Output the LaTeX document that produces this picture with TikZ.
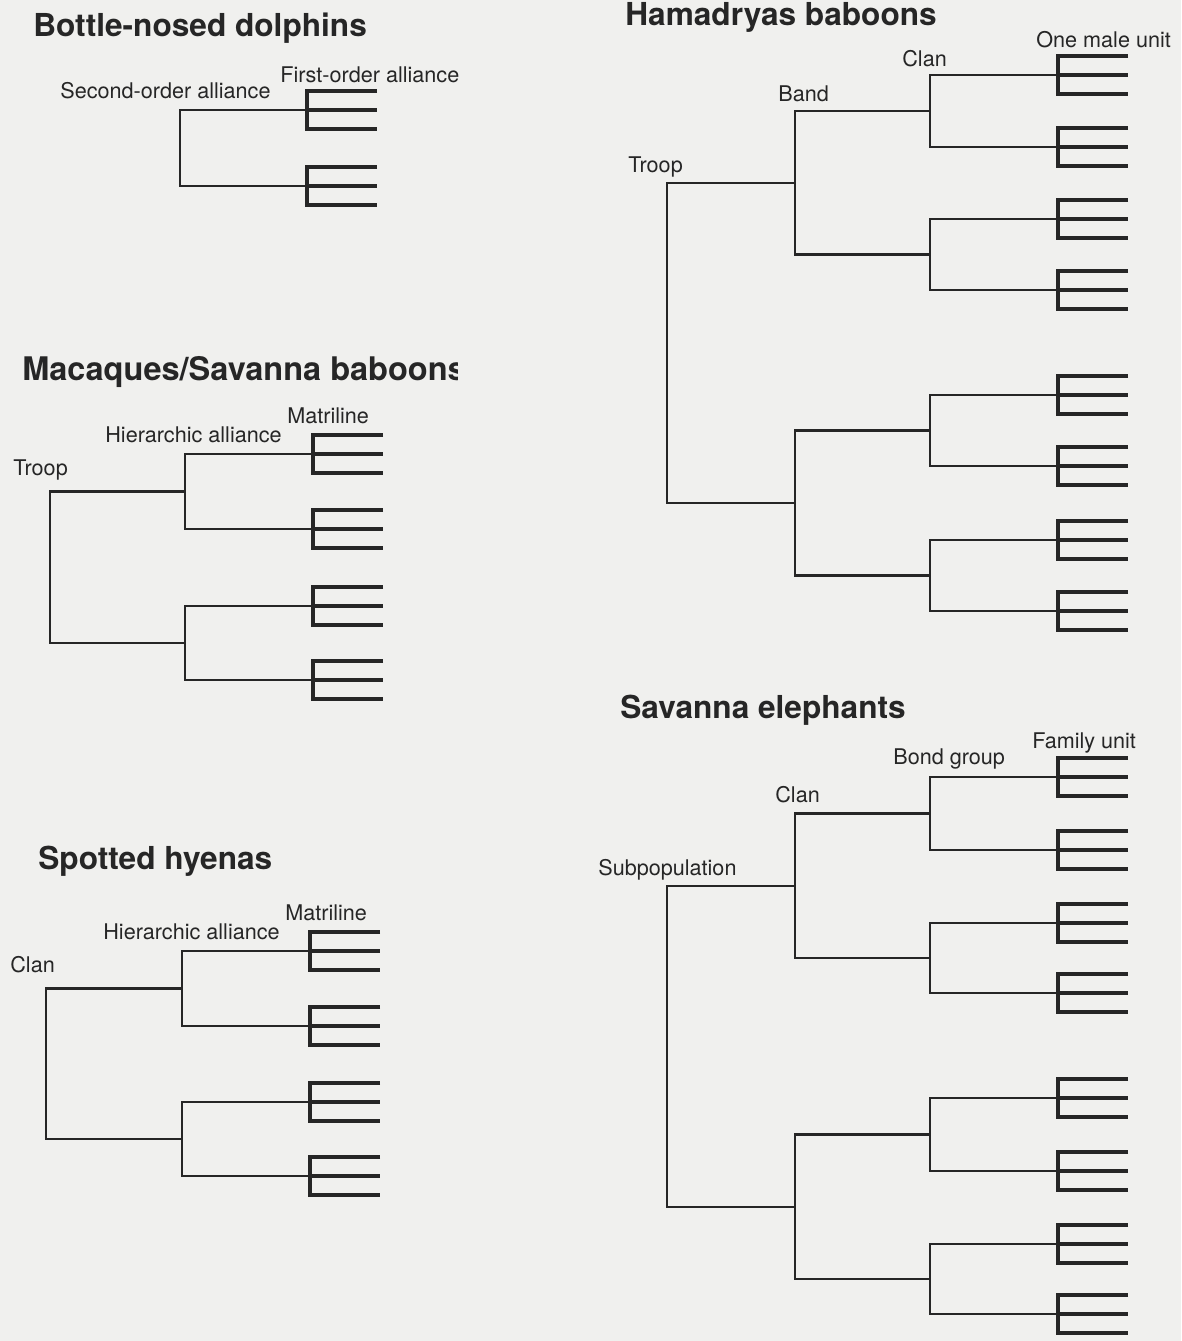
\documentclass[tikz,border=0pt]{standalone}
\usepackage{fontspec}
\setmainfont{TeX Gyre Heros}
\definecolor{scanbg}{RGB}{240,240,238}
\definecolor{ink}{RGB}{38,38,38}

\tikzset{
  branch/.style={draw=ink, line width=1.3pt},
  leafline/.style={draw=ink, line width=2.6pt},
  title/.style={anchor=base west, inner sep=0pt, text=ink, font=\fontsize{18}{21}\selectfont\bfseries},
  level/.style={anchor=base west, inner sep=0pt, text=ink, font=\fontsize{12.3}{14}\selectfont},
  comb/.pic={
    \draw[leafline] (70,-19) -- (0,-19) -- (0,19) -- (70,19);
    \draw[leafline] (0,0) -- (70,0);
  }
}

\begin{document}
\begin{tikzpicture}[x=0.02cm, y=-0.02cm]
  \useasboundingbox (0,0) rectangle (1181,1341);
  \fill[scanbg] (0,0) rectangle (1181,1341);

  % Bottle-nosed dolphins
  \node[title] (dolTitle) at (33,37) {Bottle-nosed dolphins};
  \node[level] (dolSecond) at (60,99) {Second-order alliance};
  \node[level] (dolFirst) at (280,83) {First-order alliance};
  \foreach \n/\y in {1/110,2/186} {
    \coordinate (dol\n) at (307,\y);
    \pic at (dol\n) {comb};
  }
  \coordinate (dolRoot) at (180,148);
  \draw[branch] (dol1) -| (dolRoot) |- (dol2);

  % Macaques / Savanna baboons (title cut at the right edge)
  \begin{scope}
    \clip (0,340) rectangle (457,400);
    \node[title, font=\fontsize{18.5}{21}\selectfont\bfseries] (macTitle) at (22,380) {Macaques/Savanna baboons};
  \end{scope}
  \node[level] (macMat) at (287,423) {Matriline};
  \node[level] (macHier) at (105,442) {Hierarchic alliance};
  \node[level] (macTroop) at (13,475) {Troop};
  \foreach \n/\y in {1/454,2/529,3/606,4/680} {
    \coordinate (mac\n) at (313,\y);
    \pic at (mac\n) {comb};
  }
  \coordinate (macH1) at (185,491.5);
  \coordinate (macH2) at (185,643);
  \coordinate (macRoot) at (50,567);
  \draw[branch] (mac1) -| (macH1) |- (mac2);
  \draw[branch] (mac3) -| (macH2) |- (mac4);
  \draw[branch] (macH1) -| (macRoot) |- (macH2);

  % Spotted hyenas
  \node[title] (hyeTitle) at (38,869) {Spotted hyenas};
  \node[level] (hyeMat) at (285,920) {Matriline};
  \node[level] (hyeHier) at (103,939) {Hierarchic alliance};
  \node[level] (hyeClan) at (10,972) {Clan};
  \foreach \n/\y in {1/951,2/1026,3/1102,4/1176} {
    \coordinate (hye\n) at (310,\y);
    \pic at (hye\n) {comb};
  }
  \coordinate (hyeH1) at (182,988.5);
  \coordinate (hyeH2) at (182,1139);
  \coordinate (hyeRoot) at (46,1064);
  \draw[branch] (hye1) -| (hyeH1) |- (hye2);
  \draw[branch] (hye3) -| (hyeH2) |- (hye4);
  \draw[branch] (hyeH1) -| (hyeRoot) |- (hyeH2);

  % Hamadryas baboons
  \node[title] (hamTitle) at (625,26) {Hamadryas baboons};
  \node[level] (hamUnit) at (1036,48) {One male unit};
  \node[level] (hamClan) at (902,67) {Clan};
  \node[level] (hamBand) at (778,102) {Band};
  \node[level] (hamTroop) at (628,173) {Troop};
  \foreach \n/\y in {1/75,2/147,3/219,4/290,5/395,6/466,7/540,8/611} {
    \coordinate (ham\n) at (1058,\y);
    \pic at (ham\n) {comb};
  }
  \coordinate (hamC1) at (930,111);
  \coordinate (hamC2) at (930,254.5);
  \coordinate (hamC3) at (930,430.5);
  \coordinate (hamC4) at (930,575.5);
  \coordinate (hamB1) at (795,182.75);
  \coordinate (hamB2) at (795,503);
  \coordinate (hamRoot) at (667,343);
  \draw[branch] (ham1) -| (hamC1) |- (ham2);
  \draw[branch] (ham3) -| (hamC2) |- (ham4);
  \draw[branch] (ham5) -| (hamC3) |- (ham6);
  \draw[branch] (ham7) -| (hamC4) |- (ham8);
  \draw[branch] (hamC1) -| (hamB1) |- (hamC2);
  \draw[branch] (hamC3) -| (hamB2) |- (hamC4);
  \draw[branch] (hamB1) -| (hamRoot) |- (hamB2);

  % Savanna elephants
  \node[title] (eleTitle) at (620,718) {Savanna elephants};
  \node[level] (eleFam) at (1032,748) {Family unit};
  \node[level] (eleBond) at (893,764) {Bond group};
  \node[level] (eleClan) at (775,802) {Clan};
  \node[level] (eleSub) at (598,875) {Subpopulation};
  \foreach \n/\y in {1/777,2/850,3/923,4/993,5/1098,6/1171,7/1244,8/1314} {
    \coordinate (ele\n) at (1058,\y);
    \pic at (ele\n) {comb};
  }
  \coordinate (eleG1) at (930,813.5);
  \coordinate (eleG2) at (930,958);
  \coordinate (eleG3) at (930,1134.5);
  \coordinate (eleG4) at (930,1279);
  \coordinate (eleC1) at (795,885.75);
  \coordinate (eleC2) at (795,1206.75);
  \coordinate (eleRoot) at (667,1046);
  \draw[branch] (ele1) -| (eleG1) |- (ele2);
  \draw[branch] (ele3) -| (eleG2) |- (ele4);
  \draw[branch] (ele5) -| (eleG3) |- (ele6);
  \draw[branch] (ele7) -| (eleG4) |- (ele8);
  \draw[branch] (eleG1) -| (eleC1) |- (eleG2);
  \draw[branch] (eleG3) -| (eleC2) |- (eleG4);
  \draw[branch] (eleC1) -| (eleRoot) |- (eleC2);
\end{tikzpicture}
\end{document}
